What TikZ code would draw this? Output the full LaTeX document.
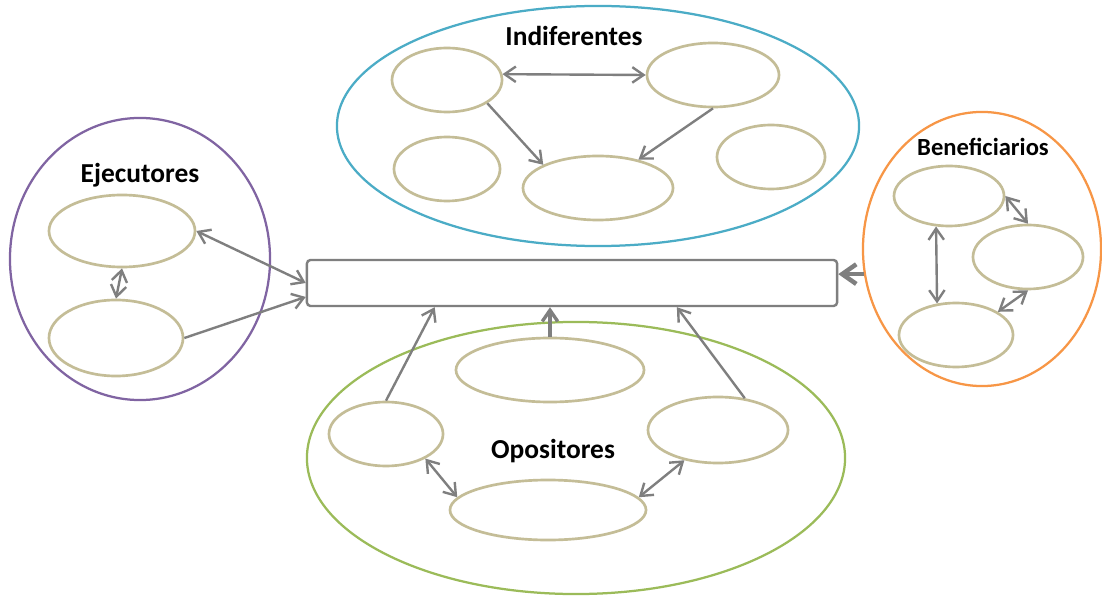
\documentclass[tikz,border=0pt]{standalone}
\usepackage{fontspec}
\setmainfont{Carlito}
\usepackage{xcolor}
\usetikzlibrary{shapes, arrows.meta, calc, positioning}

\definecolor{azulind}{HTML}{4BACC6}
\definecolor{moradoeje}{HTML}{8064A2}
\definecolor{naranjaben}{HTML}{F79646}
\definecolor{verdeopo}{HTML}{9BBB59}
\definecolor{tanactor}{HTML}{C4BD97}
\definecolor{grisflecha}{HTML}{7F7F7F}

\begin{document}
\begin{tikzpicture}[x=0.025cm, y=-0.025cm,
        grupo/.style={draw, ellipse, line width=1.6pt, inner sep=0pt},
        actor/.style={draw=tanactor, ellipse, line width=1.9pt, inner sep=0pt},
        titulo/.style={font=\bfseries\fontsize{19.5}{22}\selectfont},
        flecha/.style={draw=grisflecha, line width=1.7pt},
        >={Straight Barb[length=8pt,width=11pt]}]

            \path[use as bounding box, fill=white] (0,0) rectangle (1102,596);

            % grupos
            \node[grupo, draw=azulind, minimum width=13.05cm, minimum height=6cm] (Ind) at (598,126) {};
            \node[grupo, draw=moradoeje, minimum width=6.5cm, minimum height=7.05cm] (Eje) at (140,259) {};
            \node[grupo, draw=naranjaben, minimum width=5.95cm, minimum height=6.85cm] (Ben) at (982,249) {};
            \node[grupo, draw=verdeopo, minimum width=13.45cm, minimum height=6.8cm] (Opo) at (576,458) {};

            \node[titulo] (tInd) at (574,36) {Indiferentes};
            \node[titulo] (tEje) at (140,175) {Ejecutores};
            \node[font=\bfseries\fontsize{17.5}{20}\selectfont] (tBen) at (983,147) {Beneficiarios};
            \node[titulo] (tOpo) at (553,451) {Opositores};

            % centro
            \node[draw=grisflecha, line width=1.7pt, rounded corners=2.5pt, minimum width=13.25cm, minimum height=1.15cm] (R) at (572,283) {};

            % indiferentes
            \node[actor, minimum width=2.75cm, minimum height=1.6cm] (I1) at (447,80) {};
            \node[actor, minimum width=3.3cm, minimum height=1.6cm] (I2) at (713,75) {};
            \node[actor, minimum width=2.65cm, minimum height=1.6cm] (I3) at (447,169) {};
            \node[actor, minimum width=3.75cm, minimum height=1.6cm] (I4) at (598,188) {};
            \node[actor, minimum width=2.7cm, minimum height=1.6cm] (I5) at (771,157) {};

            % ejecutores
            \node[actor, minimum width=3.65cm, minimum height=1.8cm] (E1) at (122,231) {};
            \node[actor, minimum width=3.35cm, minimum height=1.9cm] (E2) at (116,338) {};

            % beneficiarios
            \node[actor, minimum width=2.75cm, minimum height=1.5cm] (B1) at (949,196) {};
            \node[actor, minimum width=2.75cm, minimum height=1.6cm] (B2) at (1028,257) {};
            \node[actor, minimum width=2.85cm, minimum height=1.6cm] (B3) at (956,335) {};

            % opositores
            \node[actor, minimum width=4.7cm, minimum height=1.6cm] (O1) at (550,370) {};
            \node[actor, minimum width=2.85cm, minimum height=1.6cm] (O2) at (386,434) {};
            \node[actor, minimum width=3.5cm, minimum height=1.65cm] (O3) at (718,430) {};
            \node[actor, minimum width=4.9cm, minimum height=1.5cm] (O4) at (548,510) {};

            \draw[flecha, <->] (I1.6) -- (I2.west);
            \draw[flecha, ->] (I1.-30) -- (I4.157);
            \draw[flecha, ->] (I2.south) -- (I4.35);

            \draw[flecha, <->] (E1.south) -- (E2.north);
            \draw[flecha, <->] (E1.east) -- (R.west);
            \draw[flecha, ->] (E2.east) -- (R.183);

            \draw[flecha, <->] (B1.east) -- (B2.north);
            \draw[flecha, <->] (B1.-113) -- (B3.121);
            \draw[flecha, <->] (B2.south) -- (B3.29);
            \draw[flecha, line width=3.2pt, -{Straight Barb[length=10pt,width=14pt]}] (Ben.192) -- (Ben.192 -| R.east);

            \draw[flecha, ->] (O2.north) -- (R.190);
            \draw[flecha, line width=2.4pt, ->] (O1.north) -- (O1 |- R.south);
            \draw[flecha, ->] (O3.50) -- (R.-13);
            \draw[flecha, <->] (O2.-32) -- (O4.172);
            \draw[flecha, <->] (O3.-138) -- (O4.8);

        \end{tikzpicture}
\end{document}
